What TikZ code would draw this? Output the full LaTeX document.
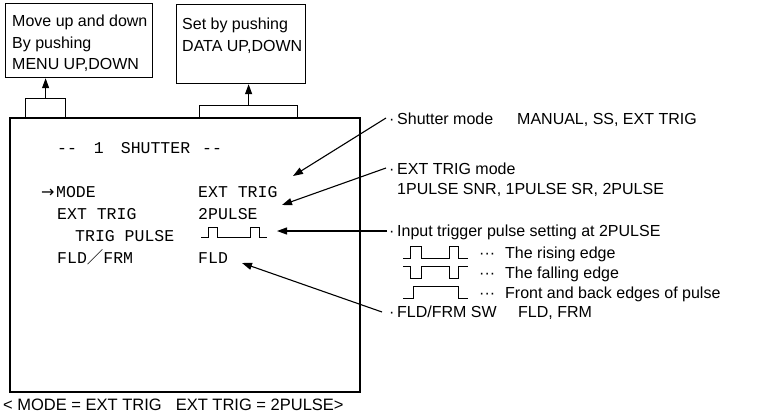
\documentclass[tikz,border=0pt]{standalone}
\usepackage{fontspec}
\setmainfont{Liberation Sans}
\setmonofont{Liberation Mono}
\newfontfamily\cjk{Noto Sans CJK JP}
\newfontfamily\arrowfont{DejaVu Sans}
\usetikzlibrary{arrows.meta}
\begin{document}
\begin{tikzpicture}[x=1pt,y=-1pt,
  lbl/.style={font=\fontsize{16}{20}\selectfont, inner sep=0pt, anchor=base west},
  mono/.style={font=\ttfamily\fontsize{16.5}{20}\selectfont, inner sep=0pt, anchor=base west},
  frame/.style={draw, line width=1.2pt, inner sep=0pt, anchor=north west},
  pointer/.style={draw, line width=1.1pt, -{Triangle[length=10pt,width=7pt]}},
  wave/.style={draw, line width=1pt},
]
\useasboundingbox (0,0) rectangle (757,415);

% top boxes
\node[frame, minimum width=147pt, minimum height=74pt] (menubox) at (5,3) {};
\node[lbl] (m1) at (12,27) {Move up and down};
\node[lbl] (m2) at (12,48) {By pushing};
\node[lbl] (m3) at (12,69) {MENU UP,DOWN};

\node[frame, minimum width=129pt, minimum height=79pt] (databox) at (176,4) {};
\node[lbl] (d1) at (182,29) {Set by pushing};
\node[lbl] (d2) at (182,51) {DATA UP,DOWN};

% tabs
\node[frame, minimum width=40pt, minimum height=19pt] (tabA) at (25,98) {};
\node[frame, minimum width=98pt, minimum height=12pt] (tabB) at (199,105) {};

% screen
\node[frame, line width=1.6pt, minimum width=350pt, minimum height=274pt, fill=white] (screen) at (9,117) {};

\draw[pointer] (tabA.north) -- (tabA.north |- menubox.south);
\draw[pointer] (tabB.north) -- (tabB.north |- databox.south);

% screen text
\node[mono] (title) at (57,153) {-{}-\hspace{17pt}1\hspace{17pt}SHUTTER\hspace{12pt}-{}-};
\node[mono] (mode) at (41,197) {{\arrowfont\fontsize{16}{20}\selectfont →}\hspace{1.5pt}MODE};
\node[mono] (modev) at (198,197) {EXT TRIG};
\node[mono] (ext) at (57,219) {EXT TRIG};
\node[mono] (extv) at (198,219) {2PULSE};
\node[mono] (trig) at (75,241) {TRIG PULSE};
\node[mono] (fld) at (57,263) {FLD{\cjk ／}FRM};
\node[mono] (fldv) at (198,263) {FLD};
\draw[wave] (201,237) -- (208,237) -- (208,227) -- (217,227) -- (217,237) -- (250,237) -- (250,227) -- (259,227) -- (259,237) -- (267,237);

% right labels
\node[lbl] (s1) at (389,124) {·};
\node[lbl] (s1t) at (397,124) {Shutter mode};
\node[lbl] (s1v) at (517,124) {MANUAL, SS, EXT TRIG};
\node[lbl] (s2) at (389,174) {·};
\node[lbl] (s2t) at (397,174) {EXT TRIG mode};
\node[lbl] (s2v) at (397,194) {1PULSE SNR, 1PULSE SR, 2PULSE};
\node[lbl] (s3) at (389,236) {·};
\node[lbl] (s3t) at (397,236) {Input trigger pulse setting at 2PULSE};
\node[lbl] (r1) at (479,258) {···};
\node[lbl] (r1t) at (505,258) {The rising edge};
\node[lbl] (r2) at (479,278) {···};
\node[lbl] (r2t) at (505,278) {The falling edge};
\node[lbl] (r3) at (479,298) {···};
\node[lbl] (r3t) at (505,298) {Front and back edges of pulse};
\node[lbl] (s4) at (389,317) {·};
\node[lbl] (s4t) at (397,317) {FLD/FRM SW};
\node[lbl] (s4v) at (518,317) {FLD, FRM};

\draw[wave] (403,258) -- (410,258) -- (410,246) -- (421,246) -- (421,258) -- (449,258) -- (449,246) -- (458,246) -- (458,258) -- (468,258);
\draw[wave] (403,266) -- (410,266) -- (410,278) -- (421,278) -- (421,266) -- (449,266) -- (449,278) -- (458,278) -- (458,266) -- (468,266);
\draw[wave] (403,298) -- (413,298) -- (413,286) -- (458,286) -- (458,298) -- (468,298);

% pointers
\coordinate (p1s) at (386,118);
\coordinate (p1e) at (293,176);
\coordinate (p2s) at (386,168);
\coordinate (p2e) at (282,205);
\coordinate (p3s) at (387,231);
\coordinate (p3e) at (277,231);
\coordinate (p4s) at (382,312);
\coordinate (p4e) at (242,263);
\draw[pointer] (p1s) -- (p1e);
\draw[pointer] (p2s) -- (p2e);
\draw[pointer] (p3s) -- (p3e);
\draw[pointer] (p4s) -- (p4e);

% caption
\node[lbl, font=\fontsize{16.5}{20}\selectfont] (cap) at (3,410.5) {< MODE = EXT TRIG\hspace{14pt}EXT TRIG = 2PULSE>};
\end{tikzpicture}
\end{document}
